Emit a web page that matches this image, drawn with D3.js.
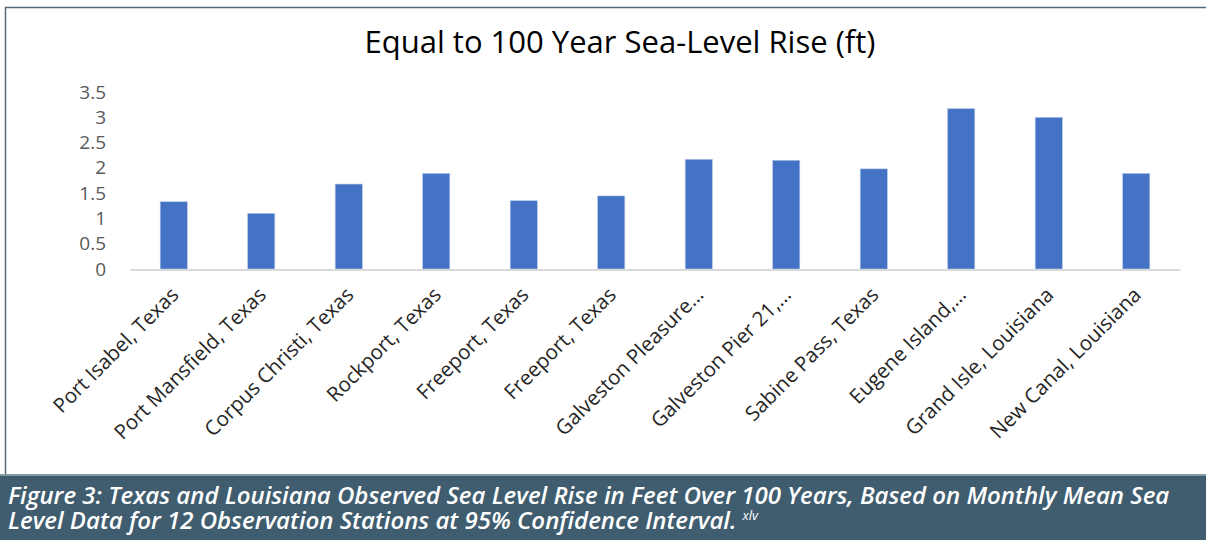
<!DOCTYPE html>
<html>
<head>
<meta charset="utf-8">
<script src="https://cdn.jsdelivr.net/npm/d3@7"></script>
<style>
  html, body { margin: 0; padding: 0; background: #ffffff; }
  svg { display: block; }
</style>
</head>
<body>
<svg id="chart" width="1206" height="540"></svg>
<script>
// Station names and observed rise over 100 years (ft)
const stations = [
  "Port Isabel, Texas",
  "Port Mansfield, Texas",
  "Corpus Christi, Texas",
  "Rockport, Texas",
  "Freeport, Texas",
  "Freeport, Texas",
  "Galveston Pleasure…",
  "Galveston Pier 21,…",
  "Sabine Pass, Texas",
  "Eugene Island,…",
  "Grand Isle, Louisiana",
  "New Canal, Louisiana"
];
const riseFt = [1.33, 1.10, 1.68, 1.89, 1.35, 1.445, 2.17, 2.15, 1.98, 3.17, 3.00, 1.89];
const yTicks = [0, 0.5, 1, 1.5, 2, 2.5, 3, 3.5];

const titleText = "Equal to 100 Year Sea-Level Rise (ft)";
const captionLines = [
  "Figure 3: Texas and Louisiana Observed Sea Level Rise in Feet Over 100 Years, Based on Monthly Mean Sea",
  "Level Data for 12 Observation Stations at 95% Confidence Interval."
];
const captionNote = "xlv";

const svg = d3.select("#chart");
const W = 1206, H = 540;

// chart frame
svg.append("rect")
  .attr("x", 5.5).attr("y", 7.5)
  .attr("width", W + 10).attr("height", 480)
  .attr("fill", "#ffffff")
  .attr("stroke", "#51697a").attr("stroke-width", 1.5);

// plot area
const plot = { left: 130, right: 1180, top: 92, bottom: 269 };

const x = d3.scaleBand()
  .domain(d3.range(stations.length))
  .range([plot.left, plot.right])
  .paddingInner(0.69).paddingOuter(0.345);

const y = d3.scaleLinear()
  .domain([0, 3.5])
  .range([plot.bottom, plot.top]);

// title
svg.append("text")
  .attr("x", 620).attr("y", 53)
  .attr("text-anchor", "middle")
  .attr("font-family", "'Open Sans', sans-serif")
  .attr("font-size", 31)
  .attr("fill", "#000000")
  .text(titleText);

// bars
svg.append("g")
  .selectAll("rect")
  .data(riseFt)
  .join("rect")
  .attr("x", (d, i) => x(i))
  .attr("y", d => y(d))
  .attr("width", x.bandwidth())
  .attr("height", d => y(0) - y(d))
  .attr("fill", "#4472c4")
  .attr("stroke", "#b4c7e7").attr("stroke-width", 0.6);

// y axis labels (no line, no ticks)
const yAxis = d3.axisLeft(y).tickValues(yTicks).tickSize(0).tickPadding(0)
  .tickFormat(d3.format("~g"));
const gy = svg.append("g")
  .attr("transform", `translate(${plot.left - 24},0)`)
  .call(yAxis);
gy.select(".domain").remove();
gy.selectAll("text")
  .attr("font-family", "'Open Sans', sans-serif")
  .attr("font-size", 19)
  .attr("fill", "#595959");

// x axis baseline
const xAxis = d3.axisBottom(d3.scaleBand().domain(stations.map((s, i) => i)).range([plot.left, plot.right]))
  .tickSize(0).tickFormat("");
const gx = svg.append("g")
  .attr("transform", `translate(0,${plot.bottom + 0.5})`)
  .call(xAxis);
gx.select(".domain").attr("stroke", "#d9d9d9").attr("stroke-width", 2);

// category labels, rotated
svg.append("g")
  .selectAll("text")
  .data(stations)
  .join("text")
  .attr("transform", (d, i) => `translate(${x(i) + x.bandwidth() / 2 + 1},${plot.bottom + 22}) rotate(-45)`)
  .attr("text-anchor", "end")
  .attr("dy", "0.35em")
  .attr("font-family", "'Open Sans', sans-serif")
  .attr("font-size", 20.5)
  .attr("fill", "#262626")
  .text(d => d);

// caption band
svg.append("rect")
  .attr("x", 0).attr("y", 474)
  .attr("width", W).attr("height", H - 474)
  .attr("fill", "#3f5d6f");
svg.append("line")
  .attr("x1", 0).attr("x2", W)
  .attr("y1", 475).attr("y2", 475)
  .attr("stroke", "#8598a4").attr("stroke-width", 2);

const cap = svg.append("g")
  .attr("font-family", "'Open Sans', sans-serif")
  .attr("font-style", "italic")
  .attr("font-weight", 600)
  .attr("font-size", 24)
  .attr("fill", "#ffffff");
cap.append("text").attr("x", 8).attr("y", 504).text(captionLines[0]);
const l2 = cap.append("text").attr("x", 8).attr("y", 529).text(captionLines[1]);
// note marker, raised after the closing period
l2.append("tspan")
  .attr("dx", 6).attr("dy", -9)
  .attr("font-size", 13).attr("font-weight", 400)
  .text(captionNote);
</script>
</body>
</html>
